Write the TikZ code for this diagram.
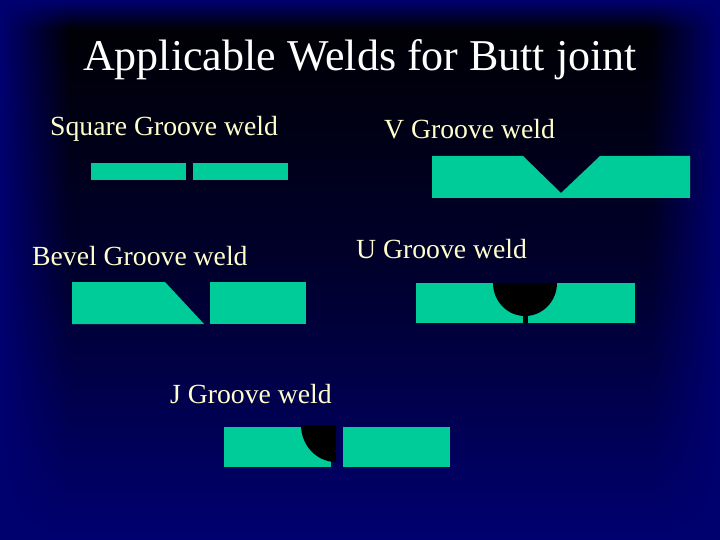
\documentclass[tikz,border=0pt]{standalone}
\usepackage{fontspec}
\setmainfont{Liberation Serif}
\usetikzlibrary{fadings}
\definecolor{plate}{HTML}{00CC99}
\definecolor{navy}{HTML}{000070}
\definecolor{txt}{HTML}{FFFFCC}
\begin{document}
\begin{tikzpicture}[x=1pt,y=-1pt,
  lbl/.style={text=txt,font=\fontsize{27.7}{30}\selectfont,inner sep=0pt,anchor=west},
  pl/.style={fill=plate,draw=none}]
\useasboundingbox (0,0) rectangle (720,540);
\shade[top color=black,bottom color=navy,middle color=black!60!navy] (0,0) rectangle (720,540);
\fill[navy,path fading=east] (0,0) rectangle (70,540);
\fill[navy,path fading=west] (650,0) rectangle (720,540);
\fill[navy,path fading=south] (0,0) rectangle (720,30);
\node[text=white,font=\fontsize{44}{48}\selectfont,inner sep=0pt] (title) at (360,60) {Applicable Welds for Butt joint};
\node[lbl] (sq) at (50,129) {Square Groove weld};
\node[lbl] (v) at (384,129) {V Groove weld};
\node[lbl] (bev) at (32,256) {Bevel Groove weld};
\node[lbl] (u) at (356,249) {U Groove weld};
\node[lbl] (j) at (170,394) {J Groove weld};
% square
\fill[pl] (91,163) rectangle (186,180);
\fill[pl] (193,163) rectangle (288,180);
% V
\fill[pl] (432,156) -- (523,156) -- (561,193) -- (600,156) -- (690,156) -- (690,198) -- (432,198) -- cycle;
% bevel
\fill[pl] (72,282) -- (165,282) -- (204,324) -- (72,324) -- cycle;
\fill[pl] (210,282) rectangle (306,324);
% U
\fill[pl] (416,283) rectangle (635,323);
\fill[black] (493,283) arc[start angle=180,end angle=360,x radius=32,y radius=-33] -- cycle;
\fill[black] (523,300) rectangle (528,323);
% J
\fill[pl] (224,427) rectangle (331,467);
\fill[black] (301,425) -- (336,425) -- (336,462) arc[start angle=270,end angle=180,x radius=35,y radius=-37] -- cycle;
\fill[pl] (343,427) rectangle (450,467);
\end{tikzpicture}
\end{document}
